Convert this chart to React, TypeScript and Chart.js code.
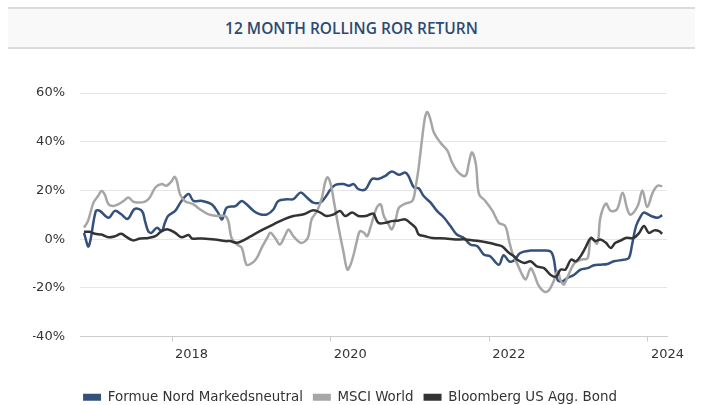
import React, { useEffect, useRef } from "react";
import { Chart, registerables } from "chart.js";

Chart.register(...registerables);

const chartTitle = "12 MONTH ROLLING ROR RETURN";
const seriesNames = ["Formue Nord Markedsneutral", "MSCI World", "Bloomberg US Agg. Bond"];
const seriesColors = ["#34507c", "#a6a6a6", "#333333"];
const yTickValues = [-40, -20, 0, 20, 40, 60];
const xTickYears = [2018, 2020, 2022, 2024];

const formueDates = [2016.89, 2016.95, 2017.04, 2017.09, 2017.20, 2017.28, 2017.36, 2017.44, 2017.53, 2017.62, 2017.66, 2017.70, 2017.74, 2017.81, 2017.87, 2017.91, 2017.95, 2018.04, 2018.12, 2018.21, 2018.27, 2018.38, 2018.50, 2018.58, 2018.63, 2018.69, 2018.80, 2018.88, 2018.94, 2019.03, 2019.11, 2019.20, 2019.28, 2019.34, 2019.45, 2019.53, 2019.62, 2019.70, 2019.78, 2019.87, 2019.93, 2020.00, 2020.06, 2020.16, 2020.23, 2020.29, 2020.35, 2020.44, 2020.52, 2020.60, 2020.69, 2020.77, 2020.86, 2020.94, 2020.98, 2021.05, 2021.11, 2021.17, 2021.26, 2021.34, 2021.43, 2021.51, 2021.59, 2021.68, 2021.76, 2021.85, 2021.93, 2022.01, 2022.12, 2022.18, 2022.25, 2022.31, 2022.39, 2022.52, 2022.65, 2022.77, 2022.81, 2022.86, 2022.92, 2022.98, 2023.07, 2023.15, 2023.24, 2023.32, 2023.40, 2023.49, 2023.57, 2023.70, 2023.76, 2023.80, 2023.85, 2023.91, 2023.95, 2024.04, 2024.12, 2024.18];
const formueValues = [2.6, -2.9, 11.6, 11.6, 8.8, 11.6, 10.2, 8.3, 12.4, 11.6, 7.4, 3.3, 2.6, 4.7, 3.3, 6.7, 9.5, 11.6, 15.7, 18.5, 15.7, 15.7, 14.3, 10.9, 8.1, 12.9, 13.6, 15.7, 14.3, 11.6, 10.2, 10.2, 12.3, 15.7, 16.4, 16.4, 19.1, 17.1, 15.0, 15.0, 17.1, 20.5, 22.3, 22.6, 21.9, 22.6, 20.5, 20.5, 24.7, 24.7, 26.0, 27.8, 26.4, 27.4, 26.0, 21.2, 20.9, 17.8, 15.0, 11.6, 8.8, 5.4, 1.9, 0.5, -2.2, -2.9, -6.3, -7.0, -10.5, -6.6, -9.1, -8.8, -5.7, -4.7, -4.7, -5.0, -7.7, -16.7, -17.4, -16.0, -14.6, -12.5, -11.9, -10.7, -10.5, -10.2, -9.1, -8.4, -7.7, -2.2, 5.4, 9.5, 10.9, 9.5, 8.8, 9.9];

const msciDates = [2016.89, 2016.94, 2017.01, 2017.07, 2017.11, 2017.15, 2017.20, 2017.26, 2017.32, 2017.39, 2017.45, 2017.51, 2017.57, 2017.66, 2017.72, 2017.79, 2017.87, 2017.93, 2018.00, 2018.03, 2018.06, 2018.10, 2018.16, 2018.27, 2018.35, 2018.46, 2018.58, 2018.67, 2018.71, 2018.75, 2018.82, 2018.88, 2018.94, 2019.01, 2019.07, 2019.13, 2019.20, 2019.24, 2019.30, 2019.36, 2019.43, 2019.47, 2019.53, 2019.62, 2019.68, 2019.72, 2019.76, 2019.83, 2019.89, 2019.93, 2019.96, 2020.00, 2020.04, 2020.10, 2020.16, 2020.21, 2020.25, 2020.29, 2020.33, 2020.37, 2020.42, 2020.46, 2020.50, 2020.58, 2020.63, 2020.67, 2020.73, 2020.77, 2020.82, 2020.86, 2020.94, 2021.03, 2021.07, 2021.11, 2021.15, 2021.19, 2021.22, 2021.26, 2021.30, 2021.38, 2021.47, 2021.53, 2021.61, 2021.70, 2021.74, 2021.78, 2021.83, 2021.87, 2021.95, 2022.04, 2022.12, 2022.20, 2022.25, 2022.29, 2022.33, 2022.42, 2022.46, 2022.52, 2022.56, 2022.62, 2022.69, 2022.75, 2022.81, 2022.86, 2022.90, 2022.94, 2022.98, 2023.07, 2023.15, 2023.24, 2023.28, 2023.36, 2023.40, 2023.47, 2023.53, 2023.61, 2023.68, 2023.74, 2023.78, 2023.87, 2023.93, 2023.99, 2024.06, 2024.12, 2024.18];
const msciValues = [4.7, 7.4, 15.0, 17.8, 19.8, 18.5, 14.3, 13.6, 14.3, 15.7, 17.1, 15.4, 15.0, 15.4, 17.1, 21.2, 22.6, 21.9, 24.0, 25.6, 24.0, 18.5, 15.7, 14.3, 12.3, 10.2, 9.5, 9.5, 7.4, 0.5, -2.2, -3.6, -10.5, -9.8, -7.7, -3.6, 0.5, 2.6, 0.5, -2.2, 1.9, 4.0, 1.2, -1.5, -0.8, 1.2, 8.1, 11.6, 17.1, 23.3, 25.4, 22.6, 15.7, 4.7, -5.0, -12.5, -10.5, -6.3, -0.8, 3.3, 2.6, 1.2, 4.7, 12.9, 14.3, 9.5, 6.1, 4.0, 8.1, 12.9, 14.6, 15.7, 21.2, 29.5, 40.5, 50.1, 52.2, 48.8, 43.9, 39.8, 36.4, 31.5, 27.4, 26.0, 30.9, 35.7, 30.9, 18.5, 15.7, 11.6, 6.7, 5.4, -0.8, -5.7, -8.5, -15.0, -16.5, -12.0, -14.0, -19.0, -21.5, -21.0, -17.4, -13.2, -17.0, -18.7, -16.0, -10.0, -8.5, -7.7, 0.5, -1.8, 8.8, 14.6, 11.6, 12.3, 19.1, 12.3, 10.0, 13.6, 20.0, 13.2, 19.1, 21.9, 21.7];

const bondDates = [2016.89, 2016.96, 2017.03, 2017.11, 2017.20, 2017.28, 2017.36, 2017.43, 2017.51, 2017.60, 2017.70, 2017.79, 2017.87, 2017.95, 2018.04, 2018.12, 2018.21, 2018.25, 2018.38, 2018.54, 2018.67, 2018.73, 2018.82, 2018.90, 2019.03, 2019.15, 2019.28, 2019.41, 2019.53, 2019.66, 2019.78, 2019.87, 2019.95, 2020.04, 2020.12, 2020.18, 2020.27, 2020.35, 2020.44, 2020.50, 2020.54, 2020.60, 2020.69, 2020.77, 2020.86, 2020.94, 2021.00, 2021.07, 2021.11, 2021.19, 2021.28, 2021.45, 2021.57, 2021.70, 2021.87, 2021.99, 2022.08, 2022.16, 2022.25, 2022.31, 2022.35, 2022.44, 2022.52, 2022.60, 2022.69, 2022.77, 2022.84, 2022.90, 2022.96, 2023.03, 2023.09, 2023.15, 2023.21, 2023.28, 2023.34, 2023.40, 2023.47, 2023.53, 2023.59, 2023.66, 2023.72, 2023.82, 2023.89, 2023.95, 2024.01, 2024.08, 2024.14, 2024.18];
const bondValues = [3.0, 3.0, 2.2, 1.9, 0.8, 1.2, 2.2, 0.8, -0.5, 0.3, 0.5, 1.2, 3.3, 4.0, 2.6, 0.8, 1.7, 0.3, 0.3, -0.1, -0.8, -0.8, -1.5, -0.5, 1.9, 4.0, 6.1, 8.1, 9.5, 10.2, 11.9, 10.9, 9.5, 10.2, 11.6, 9.5, 10.9, 9.5, 9.5, 10.2, 10.5, 6.7, 6.7, 7.4, 7.7, 8.1, 6.7, 4.7, 1.9, 1.2, 0.5, 0.3, -0.1, -0.1, -0.8, -1.5, -2.2, -2.9, -5.7, -7.0, -8.4, -9.8, -9.1, -11.2, -11.9, -14.6, -15.4, -12.5, -12.5, -8.4, -9.1, -7.0, -3.6, 0.5, -0.8, -0.1, -1.5, -3.6, -1.5, -0.5, 0.5, 0.5, 2.6, 5.4, 2.6, 3.6, 3.3, 2.2];

const xMin = 2016.84;
const xMax = 2024.24;

function toPoints(dates: number[], values: number[]) {
  return dates.map((d, i) => ({ x: d, y: values[i] }));
}

export default function App() {
  const canvasRef = useRef<HTMLCanvasElement | null>(null);

  useEffect(() => {
    if (!canvasRef.current) return;
    const fam = "'DejaVu Sans', Verdana, sans-serif";
    const tickFont = { family: fam, size: 13 };
    const legendFont = { family: fam, size: 13.4 };
    const seriesData = [
      toPoints(formueDates, formueValues),
      toPoints(msciDates, msciValues),
      toPoints(bondDates, bondValues),
    ];
    const chart = new Chart(canvasRef.current, {
      type: "line",
      data: {
        datasets: seriesNames.map((name, i) => ({
          label: name,
          data: seriesData[i],
          borderColor: seriesColors[i],
          backgroundColor: seriesColors[i],
          borderWidth: 2.5,
          pointRadius: 0,
          pointHoverRadius: 0,
          tension: 0.35,
          fill: false,
          order: 3 - i,
        })),
      },
      options: {
        animation: false,
        responsive: true,
        maintainAspectRatio: false,
        layout: { padding: { top: 45, right: 28, left: 25, bottom: 0 } },
        scales: {
          x: {
            type: "linear",
            min: xMin,
            max: xMax,
            afterBuildTicks: (scale: any) => {
              scale.ticks = xTickYears.map((v) => ({ value: v }));
            },
            afterFit: (scale: any) => {
              scale.height = 44;
            },
            grid: {
              drawOnChartArea: false,
              drawTicks: true,
              tickLength: 5,
              color: "#cccccc",
            },
            border: { display: true, color: "#cccccc", width: 1 },
            ticks: {
              font: tickFont,
              color: "#333333",
              padding: 5,
              align: "start",
              labelOffset: 3,
              maxRotation: 0,
              autoSkip: false,
              callback: (v: any) => String(v),
            },
          },
          y: {
            min: -40,
            max: 60,
            afterBuildTicks: (scale: any) => {
              scale.ticks = yTickValues.map((v) => ({ value: v }));
            },
            afterFit: (scale: any) => {
              scale.width = 47;
            },
            grid: { color: "#e6e6e6", drawTicks: false, lineWidth: 1 },
            border: { display: false },
            ticks: {
              font: tickFont,
              color: "#333333",
              padding: 15,
              callback: (v: any) => v + "%",
            },
          },
        },
        plugins: {
          legend: {
            position: "bottom",
            labels: {
              font: legendFont,
              color: "#333333",
              boxWidth: 18,
              boxHeight: 7,
              padding: 10,
              sort: (a: any, b: any) => a.datasetIndex - b.datasetIndex,
              generateLabels: (c: any) =>
                Chart.defaults.plugins.legend.labels
                  .generateLabels(c)
                  .map((l: any) => ({ ...l, lineWidth: 0, strokeStyle: l.fillStyle })),
            },
          },
          tooltip: { enabled: false },
        },
      },
    } as any);
    return () => chart.destroy();
  }, []);

  return (
    <div
      style={{
        position: "absolute",
        left: 0,
        top: 0,
        width: 703,
        height: 405,
        overflow: "hidden",
        background: "#ffffff",
      }}
    >
      <div
        style={{
          position: "absolute",
          left: 8,
          top: 7,
          width: 687,
          height: 38,
          borderTop: "2px solid #dcdcdc",
          borderBottom: "2px solid #dcdcdc",
          background: "#f9f9f9",
          textAlign: "center",
          lineHeight: "38px",
          fontFamily: "'Open Sans', sans-serif",
          fontWeight: 600,
          fontSize: 15.5,
          color: "#2d4a70",
        }}
      >
        {chartTitle}
      </div>
      <div style={{ position: "absolute", left: 8, top: 48, width: 687, height: 366 }}>
        <canvas ref={canvasRef} />
      </div>
    </div>
  );
}
